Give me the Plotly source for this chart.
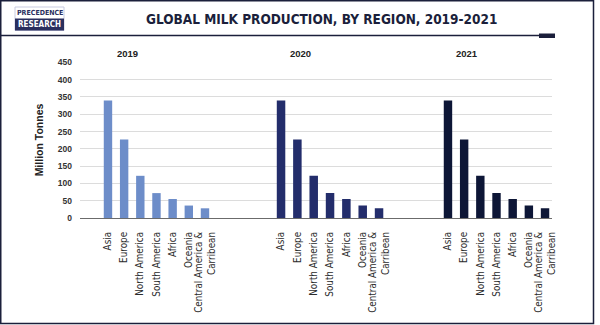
import plotly.graph_objects as go

regions = ["Asia", "Europe", "North America", "South America", "Africa", "Oceania",
           "Central America &<br>Carribean"]
years = ["2019", "2020", "2021"]
values_2019 = [340, 227, 122, 72, 55, 36, 28]
values_2020 = [340, 227, 122, 72, 55, 36, 28]
values_2021 = [340, 227, 122, 72, 55, 36, 28]
series = [values_2019, values_2020, values_2021]
colors = ["#6d8dc9", "#232d6b", "#0d1636"]
y_ticks = [0, 50, 100, 150, 200, 250, 300, 350, 400, 450]

NAVY = "#1b1f3b"
COND = "Liberation Sans Narrow, DejaVu Sans Condensed, Roboto Condensed, Arial Narrow, Roboto, sans-serif"
SANS = "Liberation Sans, Arial, sans-serif"

ML, MR, MT, MB = 80, 48, 62, 107
W = 600 - ML - MR
H = 325 - MT - MB


def px(x):
    return (x - ML) / W


def py(y):
    return (325 - MB - y) / H


fig = go.Figure()

domains = [[0.0, 0.3453], [0.3453, 0.7066], [0.7066, 1.0]]
xranges = [[-1.73, 8.35], [-2.33, 8.11], [-2.13, 6.43]]

for i, (yr, vals, col) in enumerate(zip(years, series, colors)):
    sfx = "" if i == 0 else str(i + 1)
    fig.add_trace(go.Bar(x=regions, y=vals, marker=dict(color=col, line=dict(width=0)),
                         xaxis="x" + sfx, yaxis="y" + sfx, showlegend=False))
    fig.layout["xaxis" + sfx] = dict(
        domain=domains[i], range=xranges[i], type="category", anchor="y" + sfx,
        tickangle=-90, showgrid=False, showline=True, linecolor="#6b6b6b", linewidth=1,
        ticks="", ticklabelstandoff=9, automargin=False,
        tickfont=dict(family=COND, size=9.8, color="#2b2b2b"),
        fixedrange=True)
    fig.layout["yaxis" + sfx] = dict(
        domain=[0, 1], range=[0, 451], anchor="x" + sfx, tickvals=y_ticks,
        showgrid=True, gridcolor="#dcdcdc", gridwidth=1, zeroline=False, automargin=False,
        showticklabels=(i == 0), ticks="", ticklabelstandoff=7,
        tickfont=dict(family=SANS, size=8.5, color="#333333", weight="bold"),
        title=dict(text="Million Tonnes", standoff=12,
                   font=dict(family=SANS, size=10.5, color="#222222", weight="bold")) if i == 0 else None)

annotations = []
for yr, xc in zip(years, [127, 300, 467]):
    annotations.append(dict(text=yr, x=px(xc), y=py(54), xref="paper", yref="paper",
                            xanchor="center", yanchor="middle", showarrow=False,
                            font=dict(family=SANS, size=9.5, color="#222222", weight="bold")))
# title
annotations.append(dict(text="GLOBAL MILK PRODUCTION, BY REGION, 2019-2021",
                        x=px(321), y=py(18.5), xref="paper", yref="paper",
                        xanchor="center", yanchor="middle", showarrow=False,
                        font=dict(family=COND, size=13.5, color=NAVY, weight="bold")))
# logo texts
annotations.append(dict(text="PRECEDENCE", x=px(39.5), y=py(12.5), xref="paper", yref="paper",
                        xanchor="center", yanchor="middle", showarrow=False,
                        font=dict(family=COND, size=7, color="#2a2f5e", weight="bold")))
annotations.append(dict(text="RESEARCH", x=px(39.5), y=py(24.5), xref="paper", yref="paper",
                        xanchor="center", yanchor="middle", showarrow=False,
                        font=dict(family=COND, size=8, color="#ffffff", weight="bold")))

shapes = [
    # outer frame
    dict(type="rect", xref="paper", yref="paper", x0=px(0.75), x1=px(593.5), y0=py(323.5), y1=py(0.75),
         line=dict(color=NAVY, width=1.5), fillcolor="rgba(0,0,0,0)", layer="below"),
    # header rule
    dict(type="line", xref="paper", yref="paper", x0=px(0), x1=px(540), y0=py(35.5), y1=py(35.5),
         line=dict(color=NAVY, width=1.5)),
    dict(type="rect", xref="paper", yref="paper", x0=px(539), x1=px(555), y0=py(38), y1=py(33.5),
         line=dict(width=0), fillcolor=NAVY),
    # logo
    dict(type="rect", xref="paper", yref="paper", x0=px(15), x1=px(64), y0=py(30.5), y1=py(7),
         line=dict(color="#c8cbe0", width=1), fillcolor="#ffffff"),
    dict(type="rect", xref="paper", yref="paper", x0=px(15), x1=px(64), y0=py(30.5), y1=py(18.5),
         line=dict(width=0), fillcolor="#2a2f5e"),
]

fig.update_layout(
    width=600, height=325, margin=dict(l=ML, r=MR, t=MT, b=MB, autoexpand=False),
    paper_bgcolor="#ffffff", plot_bgcolor="#ffffff",
    bargap=0.48, annotations=annotations, shapes=shapes, showlegend=False,
)

fig.write_html("out.html", config={"displayModeBar": False})
